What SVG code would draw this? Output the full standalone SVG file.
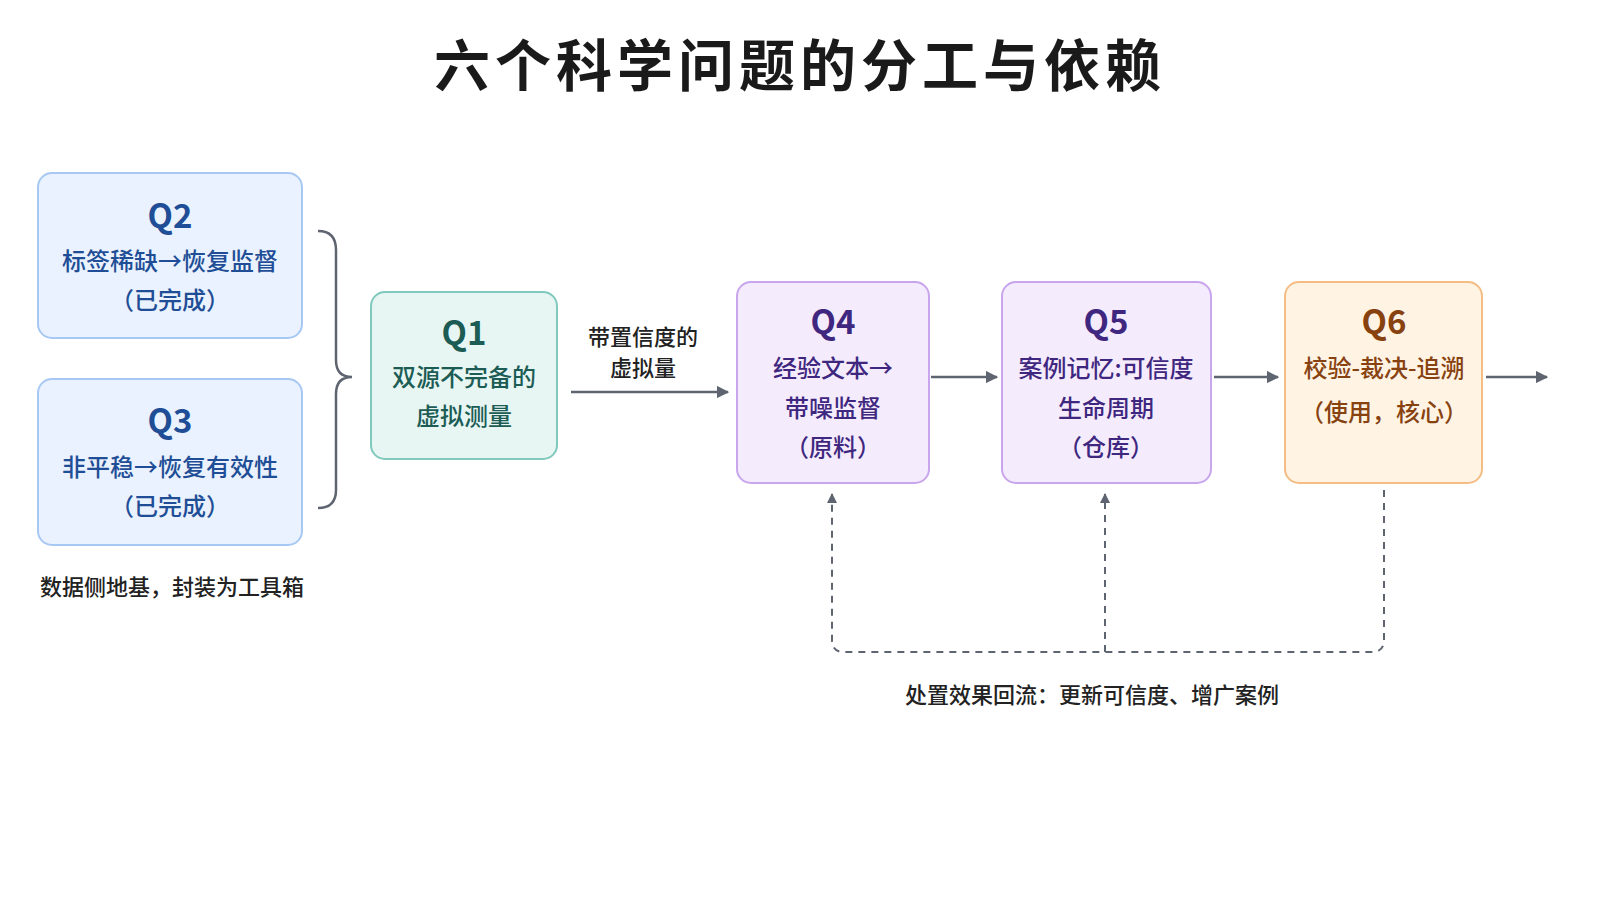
<svg xmlns="http://www.w3.org/2000/svg" width="1600" height="900" viewBox="0 0 1600 900">
<defs>
<style>
text{font-family:"Noto Sans CJK SC","Noto Sans",sans-serif;text-anchor:middle}
.t{font-size:24px;font-weight:500}
.q{font-size:33px;font-weight:bold}
.blue rect{fill:#e9f2fe;stroke:#a8c8f4;stroke-width:2}
.blue text{fill:#1f4e96}
.teal rect{fill:#e7f6f3;stroke:#7fcabd;stroke-width:2}
.teal text{fill:#1c5c55}
.pur rect{fill:#f4ecfd;stroke:#c8a5ec;stroke-width:2}
.pur text{fill:#3f2780}
.org rect{fill:#fff3e4;stroke:#f4bd84;stroke-width:2}
.org text{fill:#874210}
.ln{stroke:#5f6570;stroke-width:2.5;fill:none}
.dash{stroke:#5f6570;stroke-width:2;fill:none;stroke-dasharray:7 6}
.lbl{font-size:22px;fill:#222;font-weight:500}
</style>
<marker id="ah" viewBox="0 0 10 10" refX="9" refY="5" markerWidth="5" markerHeight="5" orient="auto"><path d="M0,0L10,5L0,10z" fill="#5f6570"/></marker>
</defs>
<rect width="1600" height="900" fill="#fff"/>
<text x="800" y="86" font-size="56" font-weight="bold" fill="#1a1a1a" letter-spacing="5">六个科学问题的分工与依赖</text>
<g id="q2" class="blue"><rect x="38" y="173" width="264" height="165" rx="14"/><text class="q" x="170" y="228">Q2</text><text class="t" x="170" y="270">标签稀缺→恢复监督</text><text class="t" x="170" y="309">（已完成）</text></g>
<g id="q3" class="blue"><rect x="38" y="379" width="264" height="166" rx="14"/><text class="q" x="170" y="433">Q3</text><text class="t" x="170" y="476">非平稳→恢复有效性</text><text class="t" x="170" y="515">（已完成）</text></g>
<g id="q1" class="teal"><rect x="371" y="292" width="186" height="167" rx="14"/><text class="q" x="464" y="345">Q1</text><text class="t" x="464" y="386">双源不完备的</text><text class="t" x="464" y="425">虚拟测量</text></g>
<g id="q4" class="pur"><rect x="737" y="282" width="192" height="201" rx="14"/><text class="q" x="833" y="334">Q4</text><text class="t" x="833" y="377">经验文本→</text><text class="t" x="833" y="417">带噪监督</text><text class="t" x="833" y="456">（原料）</text></g>
<g id="q5" class="pur"><rect x="1002" y="282" width="209" height="201" rx="14"/><text class="q" x="1106" y="334">Q5</text><text class="t" x="1106" y="377">案例记忆:可信度</text><text class="t" x="1106" y="417">生命周期</text><text class="t" x="1106" y="456">（仓库）</text></g>
<g id="q6" class="org"><rect x="1285" y="282" width="197" height="201" rx="14"/><text class="q" x="1384" y="334">Q6</text><text class="t" x="1384" y="377">校验-裁决-追溯</text><text class="t" x="1384" y="421">（使用，核心）</text></g>
<g id="connectors">
<path class="ln" d="M318,231 Q336,231 336,250 L336,360 Q336,377 352,377 Q336,377 336,394 L336,490 Q336,508 318,508"/>
<line class="ln" x1="571" y1="392" x2="728" y2="392" marker-end="url(#ah)"/>
<line class="ln" x1="931" y1="377" x2="997" y2="377" marker-end="url(#ah)"/>
<line class="ln" x1="1214" y1="377" x2="1278" y2="377" marker-end="url(#ah)"/>
<line class="ln" x1="1486" y1="377" x2="1547" y2="377" marker-end="url(#ah)"/>
<path class="dash" d="M1384,490 L1384,640 Q1384,652 1372,652 L844,652 Q832,652 832,640 L832,494" marker-end="url(#ah)"/>
<path class="dash" d="M1105,652 L1105,494" marker-end="url(#ah)"/>
</g>
<text class="lbl" x="643" y="345">带置信度的</text>
<text class="lbl" x="643" y="376">虚拟量</text>
<text class="lbl" x="40" y="595" style="text-anchor:start">数据侧地基，封装为工具箱</text>
<text class="lbl" x="1092" y="703">处置效果回流：更新可信度、增广案例</text>
</svg>
